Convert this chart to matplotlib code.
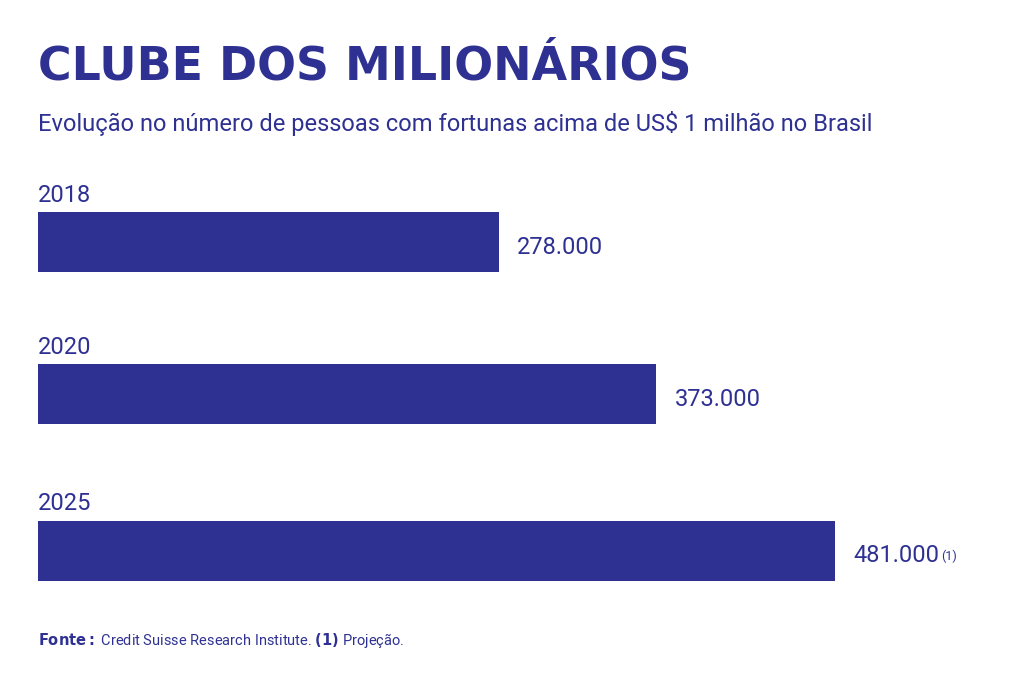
import matplotlib
matplotlib.use("Agg")
import matplotlib.pyplot as plt

years = ["2018", "2020", "2025"]
values = [278000, 373000, 481000]
labels = ["278.000", "373.000", "481.000"]
notes = ["", "", "(1)"]

C = "#2E3192"
fig = plt.figure(figsize=(10.21, 6.83), dpi=100)
ax = fig.add_axes([0, 0, 1, 1])
ax.axis("off")
scale = 1.658 / 1000  # px per unit
ax.set_xlim(-38 / scale, (1021 - 38) / scale)
ax.set_ylim(683, 0)

centers = [242, 394, 551]
ax.barh(centers, values, height=60, color=C, left=0)
for c, y, v, lab, n in zip(centers, years, values, labels, notes):
    ax.text(0, c - 47, y, color=C, fontsize=17, family="Roboto", va="center", ha="left")
    t = ax.text(v + 18 / scale, c + 5, lab, color=C, fontsize=17, family="Roboto", va="center", ha="left")
    if n:
        ax.annotate(n, xy=(1, 1), xycoords=t, xytext=(1, -4), textcoords="offset points",
                    color=C, fontsize=9, family="Roboto", va="top", ha="left")

ax.text(0, 67, "CLUBE DOS MILIONÁRIOS", color=C, fontsize=33, fontweight="bold",
        family="DejaVu Sans", va="center", ha="left")
ax.text(0, 123, "Evolução no número de pessoas com fortunas acima de US$ 1 milhão no Brasil",
        color=C, fontsize=17, family="Roboto", va="center", ha="left")
ax.text(0, 640, r"$\bf{Fonte:}$ Credit Suisse Research Institute. $\bf{(1)}$ Projeção.",
        color=C, fontsize=10.5, family="Roboto", va="center", ha="left")

fig.savefig("out.png", dpi=100)
